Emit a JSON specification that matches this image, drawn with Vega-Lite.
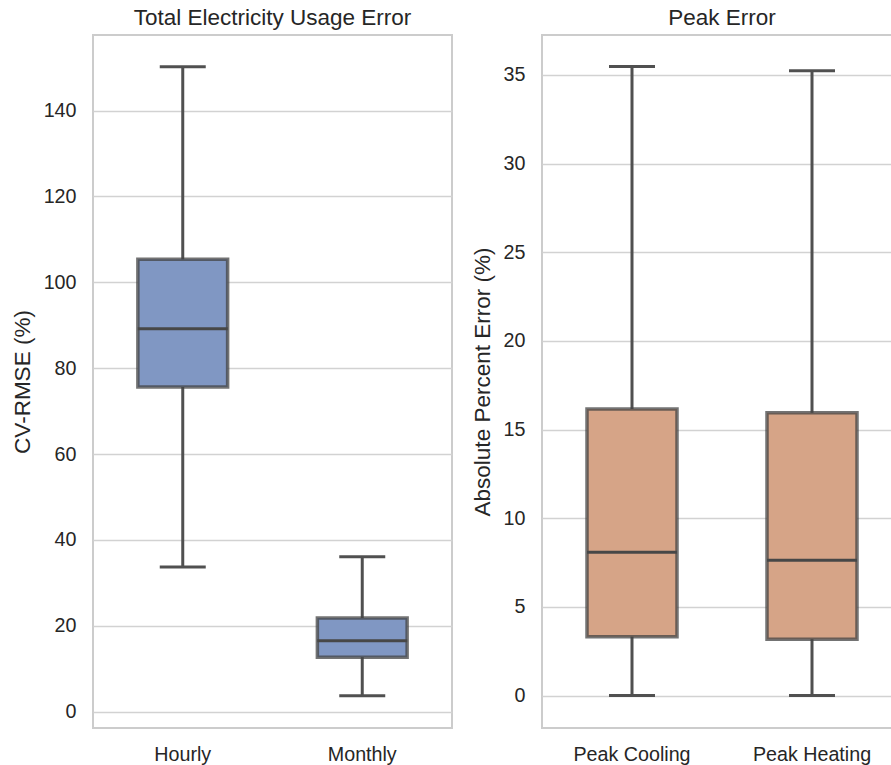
{
  "$schema": "https://vega.github.io/schema/vega-lite/v6.json",
  "padding": {"left": 10, "top": 5, "right": 0, "bottom": 0},
  "background": "white",
  "datasets": {
    "usage": [
      {"cat": "Hourly", "min": 33.7, "q1": 75.6, "med": 89.2, "q3": 105.4, "max": 150.2},
      {"cat": "Monthly", "min": 3.7, "q1": 12.7, "med": 16.5, "q3": 21.8, "max": 36.1}
    ],
    "peak": [
      {"cat": "Peak Cooling", "min": 0, "q1": 3.32, "med": 8.08, "q3": 16.16, "max": 35.47},
      {"cat": "Peak Heating", "min": 0, "q1": 3.17, "med": 7.63, "q3": 15.95, "max": 35.24}
    ]
  },
  "spacing": 17,
  "hconcat": [
    {
      "width": 359,
      "height": 693,
      "title": "Total Electricity Usage Error",
      "data": {"name": "usage"},
      "encoding": {
        "x": {"field": "cat", "type": "nominal", "sort": null, "title": null,
              "scale": {"paddingInner": 0, "paddingOuter": 0},
              "axis": {"labelAngle": 0}}
      },
      "layer": [
        {
          "mark": {"type": "rule", "color": "#505050", "strokeWidth": 3},
          "encoding": {
            "y": {"field": "min", "type": "quantitative", "title": "CV-RMSE (%)",
                  "scale": {"domain": [-3.8, 157.6], "nice": false, "zero": false},
                  "axis": {"values": [0, 20, 40, 60, 80, 100, 120, 140]}},
            "y2": {"field": "max"}
          }
        },
        {
          "mark": {"type": "bar", "width": {"band": 0.5}, "fill": "#8097c3", "stroke": "#444444", "strokeOpacity": 0.75, "strokeWidth": 3.5},
          "encoding": {"y": {"field": "q1", "type": "quantitative"}, "y2": {"field": "q3"}}
        },
        {
          "mark": {"type": "tick", "size": 90, "thickness": 3, "color": "#474747", "opacity": 1},
          "encoding": {"y": {"field": "med", "type": "quantitative"}}
        },
        {
          "mark": {"type": "tick", "size": 46, "thickness": 3, "color": "#505050", "opacity": 1},
          "encoding": {"y": {"field": "min", "type": "quantitative"}}
        },
        {
          "mark": {"type": "tick", "size": 46, "thickness": 3, "color": "#505050", "opacity": 1},
          "encoding": {"y": {"field": "max", "type": "quantitative"}}
        }
      ]
    },
    {
      "width": 360,
      "height": 693,
      "title": "Peak Error",
      "data": {"name": "peak"},
      "encoding": {
        "x": {"field": "cat", "type": "nominal", "sort": null, "title": null,
              "scale": {"paddingInner": 0, "paddingOuter": 0},
              "axis": {"labelAngle": 0}}
      },
      "layer": [
        {
          "mark": {"type": "rule", "color": "#505050", "strokeWidth": 3},
          "encoding": {
            "y": {"field": "min", "type": "quantitative", "title": "Absolute Percent Error (%)",
                  "scale": {"domain": [-1.83, 37.25], "nice": false, "zero": false},
                  "axis": {"values": [0, 5, 10, 15, 20, 25, 30, 35]}},
            "y2": {"field": "max"}
          }
        },
        {
          "mark": {"type": "bar", "width": {"band": 0.5}, "fill": "#d6a487", "stroke": "#444444", "strokeOpacity": 0.75, "strokeWidth": 3.5},
          "encoding": {"y": {"field": "q1", "type": "quantitative"}, "y2": {"field": "q3"}}
        },
        {
          "mark": {"type": "tick", "size": 90, "thickness": 3, "color": "#474747", "opacity": 1},
          "encoding": {"y": {"field": "med", "type": "quantitative"}}
        },
        {
          "mark": {"type": "tick", "size": 46, "thickness": 3, "color": "#505050", "opacity": 1},
          "encoding": {"y": {"field": "min", "type": "quantitative"}}
        },
        {
          "mark": {"type": "tick", "size": 46, "thickness": 3, "color": "#505050", "opacity": 1},
          "encoding": {"y": {"field": "max", "type": "quantitative"}}
        }
      ]
    }
  ],
  "config": {
    "font": "Liberation Sans",
    "view": {"stroke": "#cccccc", "strokeWidth": 2},
    "title": {"fontSize": 22.5, "fontWeight": "normal", "color": "#262626", "offset": 6},
    "axis": {
      "labelFontSize": 19.7, "labelColor": "#262626", "titleFontSize": 22.5, "titleFontWeight": "normal", "titleColor": "#262626",
      "ticks": false, "domain": false, "labelPadding": 17, "titlePadding": 9
    },
    "axisX": {"grid": false, "labelPadding": 16},
    "axisY": {"grid": true, "gridColor": "#d2d2d2", "gridWidth": 1.5}
  }
}
